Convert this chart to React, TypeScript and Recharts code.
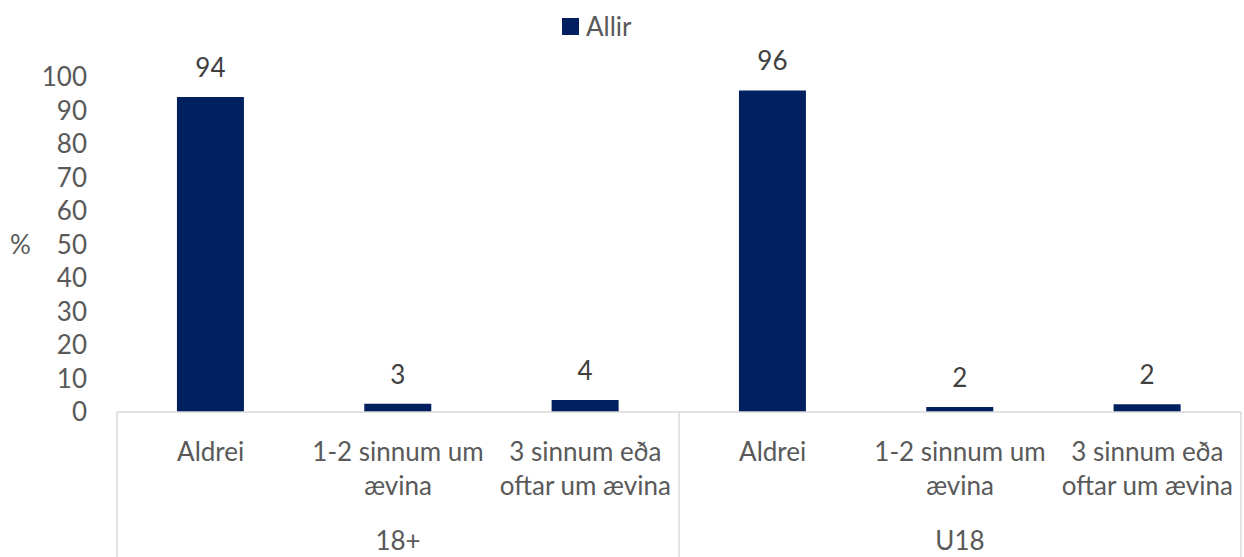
import React from "react";
import {
  BarChart,
  Bar,
  XAxis,
  YAxis,
  Legend,
  LabelList,
} from "recharts";

// answer categories, repeated for each age group
const categories = ["Aldrei", "1-2 sinnum um\nævina", "3 sinnum eða\noftar um ævina"];
const groups = ["18+", "U18"];
const values18 = [94, 2.5, 3.6];
const valuesU18 = [96, 1.5, 2.3];
const yTicks = [0, 10, 20, 30, 40, 50, 60, 70, 80, 90, 100];
const seriesName = "Allir";

const data = [
  ...categories.map((c, i) => ({ label: c, value: values18[i] })),
  ...categories.map((c, i) => ({ label: c, value: valuesU18[i] })),
];

const W = 1244;
const H = 557;
const LEFT = 117;
const RIGHT = 3;
const SLOT = (W - LEFT - RIGHT) / data.length;
const NAVY = "#002060";
const GRID = "#d9d9d9";
const TEXT = "#595959";
const FONT = 26;

function CategoryTick(props: any) {
  const { x, y, payload, index } = props;
  const lines = String(payload.value).split("\n");
  const i = index ?? payload.index;
  return (
    <g>
      <text x={x} y={y} textAnchor="middle" fill={TEXT} fontSize={FONT}>
        {lines.map((l, k) => (
          <tspan key={k} x={x} dy={k === 0 ? 49 : 33.5}>
            {l}
          </tspan>
        ))}
      </text>
      {i % 3 === 1 && (
        <text x={x} y={y + 138} textAnchor="middle" fill={TEXT} fontSize={FONT}>
          {groups[Math.floor(i / 3)]}
        </text>
      )}
      {i % 3 === 0 && (
        <line x1={x - SLOT / 2} x2={x - SLOT / 2} y1={y} y2={y + 145} stroke={GRID} strokeWidth={1.5} />
      )}
      {i === data.length - 1 && (
        <line x1={x + SLOT / 2} x2={x + SLOT / 2} y1={y} y2={y + 145} stroke={GRID} strokeWidth={1.5} />
      )}
    </g>
  );
}

function LegendContent() {
  return (
    <div style={{ display: "flex", alignItems: "center", gap: 7 }}>
      <span style={{ width: 17, height: 17, background: NAVY, display: "inline-block" }} />
      <span style={{ color: TEXT, fontSize: FONT, lineHeight: "30px" }}>{seriesName}</span>
    </div>
  );
}

export default function App() {
  return (
    <div
      style={{
        position: "absolute",
        left: 0,
        top: 0,
        width: W,
        height: H,
        background: "#fff",
        fontFamily: "Lato, 'Open Sans', sans-serif",
      }}
    >
      <BarChart
        width={W}
        height={H}
        data={data}
        margin={{ top: 77, right: RIGHT, left: 0, bottom: 0 }}
        barCategoryGap="32%"
      >
        <XAxis
          dataKey="label"
          interval={0}
          height={145}
          tickLine={false}
          tickSize={0}
          tickMargin={0}
          axisLine={{ stroke: GRID, strokeWidth: 1.5 }}
          tick={<CategoryTick />}
        />
        <YAxis
          width={LEFT}
          domain={[0, 100]}
          ticks={yTicks}
          interval={0}
          axisLine={false}
          tickLine={false}
          tickSize={0}
          tickMargin={30}
          tick={{ fill: TEXT, fontSize: FONT }}
          label={{ value: "%", position: "insideLeft", offset: 10, fill: TEXT, fontSize: FONT }}
        />
        <Legend
          verticalAlign="middle"
          align="center"
          content={<LegendContent />}
          wrapperStyle={{ top: 11, left: 562, width: "auto" }}
        />
        <Bar dataKey="value" name={seriesName} fill={NAVY} isAnimationActive={false}>
          <LabelList
            dataKey="value"
            position="top"
            offset={20}
            fill="#404040"
            fontSize={FONT}
            formatter={(v: any) => Math.round(Number(v))}
          />
        </Bar>
      </BarChart>
    </div>
  );
}
